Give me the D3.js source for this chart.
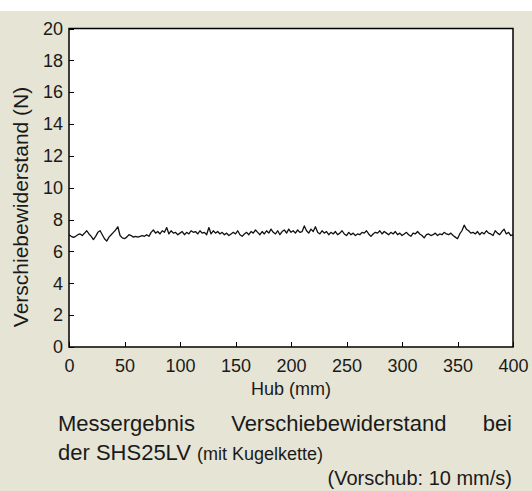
<!DOCTYPE html>
<meta charset="utf-8">
<style>
body { margin: 0; background: #fff; }
svg text { font-family: "Liberation Sans", Arial, Helvetica, sans-serif; fill: #1a1a1a; }
.axis line, .axis path { stroke: #000; shape-rendering: crispEdges; }
.trace { fill: none; stroke: #111; stroke-width: 1.3px; stroke-linejoin: round; }
</style>
<body>
<div id="chart"></div>
<script src="https://cdn.jsdelivr.net/npm/d3@7"></script>
<script>
// Hub in mm, sampled every 2 mm
var hubStart = 0, hubStep = 2;
var kraft = [
  7.05, 6.95, 6.88, 6.95, 7.05, 7.10, 7.00, 7.15, 7.30, 7.10,
  6.95, 6.75, 6.95, 7.20, 7.30, 7.05, 6.80, 6.65, 6.90, 7.05,
  7.20, 7.35, 7.55, 7.00, 6.85, 6.80, 6.90, 7.05, 7.00, 6.90,
  6.95, 6.90, 6.95, 7.00, 6.95, 7.05, 6.95, 7.20, 7.35, 7.15,
  7.25, 7.10, 7.30, 7.20, 7.50, 7.10, 7.30, 7.15, 7.20, 7.05,
  7.15, 7.25, 7.05, 7.20, 7.10, 7.30, 7.20, 7.25, 7.10, 7.30,
  7.15, 7.20, 7.05, 7.50, 7.10, 7.30, 7.15, 7.25, 7.10, 7.20,
  7.05, 7.15, 7.00, 7.10, 7.20, 7.10, 7.30, 7.05, 6.95, 7.10,
  7.20, 7.05, 7.25, 7.15, 7.35, 7.20, 7.05, 7.25, 7.10, 7.30,
  7.15, 7.40, 7.20, 7.10, 7.30, 7.05, 7.25, 7.35, 7.15, 7.40,
  7.20, 7.30, 7.15, 7.35, 7.20, 7.25, 7.60, 7.30, 7.15, 7.40,
  7.25, 7.55, 7.20, 7.10, 7.30, 7.15, 7.25, 7.05, 7.20, 7.10,
  7.25, 7.05, 7.15, 7.30, 7.10, 7.00, 7.20, 7.05, 7.15, 7.00,
  7.10, 7.05, 7.20, 7.15, 7.30, 7.10, 6.95, 7.10, 7.20, 7.15,
  7.30, 7.10, 7.25, 7.15, 7.05, 7.20, 7.10, 7.25, 7.05, 7.15,
  7.00, 7.10, 7.20, 7.05, 6.95, 7.15, 7.10, 7.25, 7.10, 7.00,
  6.85, 7.05, 7.10, 7.00, 7.05, 7.15, 7.00, 7.10, 7.05, 7.20,
  7.10, 7.05, 7.15, 7.00, 6.90, 6.80, 7.10, 7.30, 7.65, 7.40,
  7.30, 7.15, 7.20, 7.10, 7.25, 7.05, 7.20, 7.10, 7.30, 7.15,
  7.10, 7.00, 7.30, 7.15, 7.05, 7.25, 7.40, 7.10, 7.20, 7.00,
  7.05
];
var xTicks = [0, 50, 100, 150, 200, 250, 300, 350, 400];
var yTicks = [0, 2, 4, 6, 8, 10, 12, 14, 16, 18, 20];

var W = 532, H = 491;
var margin = {top: 28.5, right: 19, bottom: 144, left: 69};
var width = W - margin.left - margin.right,
    height = H - margin.top - margin.bottom;

var svg = d3.select("#chart").append("svg")
    .attr("width", W).attr("height", H);

// beige panel under a thin white strip
svg.append("rect").attr("x", 0).attr("y", 11).attr("width", W).attr("height", H - 11)
    .attr("fill", "#e6e4d4");

var g = svg.append("g").attr("transform", "translate(" + margin.left + "," + margin.top + ")");

var x = d3.scaleLinear().domain([0, 400]).range([0, width]);
var y = d3.scaleLinear().domain([0, 20]).range([height, 0]);

g.append("rect").attr("width", width).attr("height", height).attr("fill", "#fff");

var pts = kraft.map(function(v, i) { return [hubStart + i * hubStep, v]; });
var line = d3.line().x(function(d) { return x(d[0]); }).y(function(d) { return y(d[1]); });
g.append("path").datum(pts).attr("class", "trace").attr("d", line);

// inward ticks
var xAxis = d3.axisBottom(x).tickValues(xTicks).tickSizeInner(-5).tickSizeOuter(0).tickPadding(12);
var yAxis = d3.axisLeft(y).tickValues(yTicks).tickSizeInner(-5).tickSizeOuter(0).tickPadding(6);

var gx = g.append("g").attr("class", "axis").attr("transform", "translate(0," + height + ")").call(xAxis);
var gy = g.append("g").attr("class", "axis").call(yAxis);
gx.selectAll("text").style("font-size", "18px").attr("fill", "#1a1a1a");
gy.selectAll("text").style("font-size", "18px").attr("fill", "#1a1a1a");
g.selectAll(".axis .domain").remove();

g.append("rect").attr("width", width).attr("height", height)
    .attr("fill", "none").attr("stroke", "#000").attr("stroke-width", 1.5);

svg.append("text")
    .attr("transform", "translate(28,207) rotate(-90)")
    .attr("text-anchor", "middle").style("font-size", "21px")
    .text("Verschiebewiderstand (N)");

svg.append("text")
    .attr("x", margin.left + width / 2).attr("y", 395)
    .attr("text-anchor", "middle").style("font-size", "18px")
    .text("Hub (mm)");

// caption, first line justified between 58 and 512
var capLeft = 58, capRight = 512;
var cap = svg.append("g").style("font-size", "22px");
var words = ["Messergebnis", "Verschiebewiderstand", "bei"];
var wt = words.map(function(w) { return cap.append("text").attr("y", 431).text(w); });
var lens = wt.map(function(t) { return t.node().getComputedTextLength(); });
var gap = (capRight - capLeft - d3.sum(lens)) / (words.length - 1);
var cx = capLeft;
wt.forEach(function(t, i) { t.attr("x", cx); cx += lens[i] + gap; });

var l2 = cap.append("text").attr("x", capLeft).attr("y", 460);
l2.append("tspan").text("der SHS25LV ");
l2.append("tspan").style("font-size", "18px").text("(mit Kugelkette)");
svg.append("text").attr("x", capRight).attr("y", 485).attr("text-anchor", "end")
    .style("font-size", "20px").text("(Vorschub: 10 mm/s)");
</script>
</body>
